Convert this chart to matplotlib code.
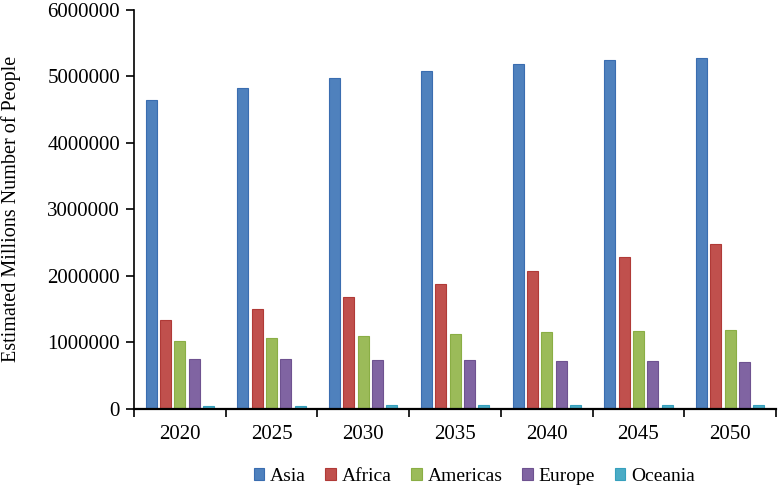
import numpy as np
import matplotlib
matplotlib.use("Agg")
import matplotlib.pyplot as plt

years = ["2020", "2025", "2030", "2035", "2040", "2045", "2050"]
regions = ["Asia", "Africa", "Americas", "Europe", "Oceania"]

asia = [4641000, 4820000, 4970000, 5087000, 5187000, 5252000, 5282000]
africa = [1339000, 1505000, 1686000, 1872000, 2072000, 2278000, 2483000]
americas = [1019000, 1059000, 1094000, 1124000, 1150000, 1169000, 1184000]
europe = [743000, 743000, 733000, 728000, 723000, 713000, 708000]
oceania = [43000, 46000, 49000, 51000, 54000, 56000, 57000]

series = [asia, africa, americas, europe, oceania]
fills = ["#4F81BD", "#C0504D", "#9BBB59", "#8064A2", "#4BACC6"]
edges = ["#3A6DB0", "#B03A37", "#8AAE45", "#6E5290", "#36A0BD"]

plt.rcParams["font.family"] = ["Liberation Serif", "DejaVu Serif"]

fig = plt.figure(figsize=(7.8, 4.88), dpi=100)
ax = fig.add_axes([0.1718, 0.1625, 0.8231, 0.817])

x = np.arange(len(years))
slot, width = 0.156, 0.12
for i, (vals, fc, ec, name) in enumerate(zip(series, fills, edges, regions)):
    ax.bar(x + (i - 2) * slot, vals, width, color=fc, edgecolor=ec,
           linewidth=0.8, label=name)

ax.set_xlim(-0.5, len(years) - 0.5)
ax.set_ylim(0, 6000000)
ax.set_yticks(range(0, 6000001, 1000000))
ax.set_yticklabels([str(v) for v in range(0, 6000001, 1000000)], fontsize=15)
ax.set_xticks(x)
ax.set_xticklabels(years, fontsize=15)
ax.set_xticks(np.arange(-0.5, len(years)), minor=True)
ax.tick_params(axis="x", which="major", length=0, pad=12)
ax.tick_params(axis="x", which="minor", length=6, width=1.2, direction="out")
ax.tick_params(axis="y", length=6, width=1.2, direction="out", pad=4)

for s in ("top", "right"):
    ax.spines[s].set_visible(False)
ax.spines["left"].set_linewidth(1.2)
ax.spines["bottom"].set_linewidth(1.6)

ax.set_ylabel("Estimated Millions Number of People", fontsize=14.5)
ax.yaxis.set_label_coords(-0.176, 0.5)

ax.legend(loc="lower center", bbox_to_anchor=(0.53, -0.235), ncol=5,
          frameon=False, fontsize=14, handlelength=0.55, handleheight=0.55,
          handletextpad=0.3, columnspacing=1.0)

fig.savefig("out.png", dpi=100)
